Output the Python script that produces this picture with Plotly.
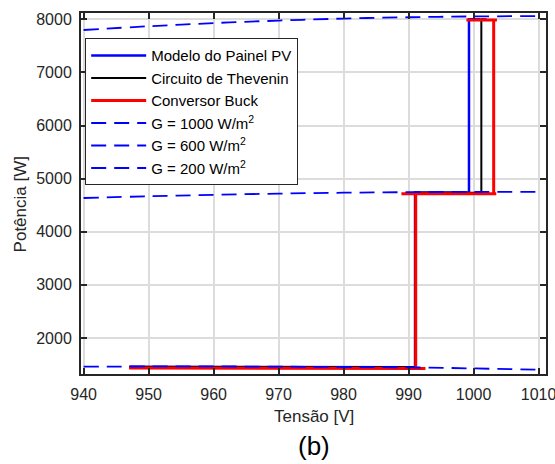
import plotly.graph_objects as go

# Irradiance P-V reference curves (dashed)
v_curve = [940, 950, 960, 970, 980, 990, 1000, 1010]
p_g1000 = [7800, 7870, 7930, 7977, 8015, 8040, 8055, 8062]
p_g600 = [4635, 4668, 4695, 4718, 4735, 4745, 4750, 4750]
p_g200 = [1458, 1462, 1462, 1458, 1452, 1445, 1425, 1400]

# Operating trajectories
v_modelo = [947, 970, 991, 991, 999.3, 999.3, 1001]
p_modelo = [1455, 1452, 1448, 4738, 4742, 8000, 8000]

v_thevenin = [947, 970, 991, 991, 1001.2, 1001.2, 1002]
p_thevenin = [1452, 1450, 1445, 4735, 4738, 8000, 8000]

v_buck = [947, 970, 992.6, 991.1, 991.1, 988.9, 1003.5, 1003.1, 1003.1, 998.9, 1003.6]
p_buck = [1432, 1430, 1425, 1428, 4715, 4715, 4715, 4715, 7990, 7990, 7990]

x_ticks = [940, 950, 960, 970, 980, 990, 1000, 1010]
y_ticks = [2000, 3000, 4000, 5000, 6000, 7000, 8000]

fig = go.Figure()
fig.add_trace(go.Scatter(x=v_modelo, y=p_modelo, mode="lines", name="Modelo do Painel PV",
                         line=dict(color="#0000ff", width=2.5)))
fig.add_trace(go.Scatter(x=v_thevenin, y=p_thevenin, mode="lines", name="Circuito de Thevenin",
                         line=dict(color="#000000", width=2)))
fig.add_trace(go.Scatter(x=v_buck, y=p_buck, mode="lines", name="Conversor Buck",
                         line=dict(color="#ff0000", width=3)))
dash = "15px,8px"
fig.add_trace(go.Scatter(x=v_curve, y=p_g1000, mode="lines", name="G = 1000 W/m<sup>2</sup>",
                         line=dict(color="#0000ff", width=1.8, dash=dash, shape="spline")))
fig.add_trace(go.Scatter(x=v_curve, y=p_g600, mode="lines", name="G = 600 W/m<sup>2</sup>",
                         line=dict(color="#0000ff", width=1.8, dash=dash, shape="spline")))
fig.add_trace(go.Scatter(x=v_curve, y=p_g200, mode="lines", name="G = 200 W/m<sup>2</sup>",
                         line=dict(color="#0000ff", width=1.8, dash=dash, shape="spline")))

axis_common = dict(
    showline=True, linecolor="#262626", linewidth=2, mirror="allticks",
    ticks="inside", ticklen=6, tickwidth=2, tickcolor="#262626",
    showgrid=True, gridcolor="#dcdcdc", gridwidth=1.5, zeroline=False,
    tickfont=dict(family="Liberation Sans, Arial", size=16, color="#262626"),
    automargin=False, ticklabeloverflow="allow",
)

fig.update_layout(
    width=555, height=464,
    margin=dict(l=81, r=9, t=13, b=90),
    paper_bgcolor="white", plot_bgcolor="white",
    font=dict(family="Liberation Sans, Arial", color="#262626"),
    xaxis=dict(range=[939.6, 1011.15], tickvals=x_ticks, ticklabelstandoff=5, **axis_common),
    yaxis=dict(range=[1320, 8120], tickvals=y_ticks, ticklabelstandoff=4, **axis_common),
    showlegend=True,
    legend=dict(x=0.009, y=0.93, xanchor="left", yanchor="top",
                bgcolor="white", bordercolor="#262626", borderwidth=1,
                font=dict(family="Liberation Sans, Arial", size=15, color="#000000"),
                itemwidth=55, tracegroupgap=0),
    annotations=[
        dict(text="Tensão [V]", xref="paper", yref="paper", x=0.5, y=-0.119,
             xanchor="center", yanchor="middle", showarrow=False,
             font=dict(size=17, color="#262626")),
        dict(text="(b)", xref="paper", yref="paper", x=0.5, y=-0.199,
             xanchor="center", yanchor="middle", showarrow=False,
             font=dict(size=26, color="#000000")),
        dict(text="Potência [W]", xref="paper", yref="paper", x=-0.131, y=0.47,
             xanchor="center", yanchor="middle", showarrow=False, textangle=-90,
             font=dict(size=17, color="#262626")),
    ],
)

fig.write_html("out.html", config={"displayModeBar": False},
               post_script="document.body.style.margin='0px';document.body.style.overflow='hidden';")
